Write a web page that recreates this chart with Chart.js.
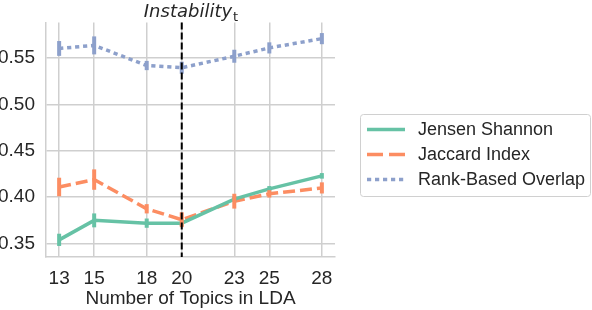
<!DOCTYPE html>
<html><head><meta charset="utf-8">
<script src="https://cdn.jsdelivr.net/npm/chart.js@4.4.1/dist/chart.umd.min.js"></script>
<style>html,body{margin:0;padding:0;background:#fff;}canvas{display:block;}</style>
</head><body>
<canvas id="c" width="592" height="310"></canvas>
<script>
const topics = [13, 15, 18, 20, 23, 25, 28];
const seriesNames = ["Jensen Shannon", "Jaccard Index", "Rank-Based Overlap"];
const jensen = [0.354, 0.375, 0.372, 0.372, 0.398, 0.409, 0.423];
const jensenErr = [0.0066, 0.0075, 0.005, 0.003, 0.003, 0.003, 0.003];
const jaccard = [0.411, 0.419, 0.3875, 0.3757, 0.3957, 0.4036, 0.410];
const jaccardErr = [0.010, 0.011, 0.005, 0.008, 0.008, 0.004, 0.006];
const rbo = [0.5604, 0.5637, 0.542, 0.5396, 0.552, 0.561, 0.571];
const rboErr = [0.008, 0.0097, 0.005, 0.0065, 0.007, 0.006, 0.006];
const yTicks = [0.35, 0.40, 0.45, 0.50, 0.55];
const markerX = 20;

const colors = ["#66c2a5", "#fc8d62", "#8da0cb"];
const dashes = [[], [12, 5], [4.2, 3.8]];
const values = [jensen, jaccard, rbo];
const errs = [jensenErr, jaccardErr, rboErr];

const datasets = values.map((v, i) => ({
  label: seriesNames[i],
  data: topics.map((t, j) => ({x: t, y: v[j]})),
  errs: errs[i],
  borderColor: colors[i],
  backgroundColor: colors[i],
  borderWidth: 3.5,
  borderDash: dashes[i],
  pointRadius: 0,
  showLine: true,
  tension: 0,
  fill: false
}));

const FONT = "'Liberation Sans', Arial, sans-serif";
const TXT = "#262626";

const extras = {
  id: 'extras',
  afterDatasetsDraw(chart) {
    const ctx = chart.ctx, xs = chart.scales.x, ys = chart.scales.y, ca = chart.chartArea;
    // error bars
    chart.data.datasets.forEach(ds => {
      ctx.save();
      ctx.strokeStyle = ds.borderColor;
      ctx.lineWidth = 4;
      ctx.lineCap = 'butt';
      ds.data.forEach((p, j) => {
        const px = xs.getPixelForValue(p.x);
        ctx.beginPath();
        ctx.moveTo(px, ys.getPixelForValue(p.y - ds.errs[j]));
        ctx.lineTo(px, ys.getPixelForValue(p.y + ds.errs[j]));
        ctx.stroke();
      });
      ctx.restore();
    });
    // vertical dashed line
    const vx = xs.getPixelForValue(markerX);
    ctx.save();
    ctx.strokeStyle = '#000';
    ctx.lineWidth = 2;
    ctx.setLineDash([7, 3]);
    ctx.beginPath();
    ctx.moveTo(vx, ca.top);
    ctx.lineTo(vx, ca.bottom);
    ctx.stroke();
    ctx.restore();
    // title Instability_t
    ctx.save();
    ctx.fillStyle = TXT;
    ctx.textBaseline = 'alphabetic';
    const mainFont = "oblique 18px 'DejaVu Sans', sans-serif";
    const subFont = "13px 'DejaVu Sans', sans-serif";
    ctx.font = mainFont;
    const w1 = ctx.measureText('Instability').width;
    ctx.font = subFont;
    const w2 = ctx.measureText('t').width;
    const cx = (ca.left + ca.right) / 2;
    const x0 = cx - (w1 + w2) / 2;
    ctx.font = mainFont;
    ctx.fillText('Instability', x0, 17);
    ctx.font = subFont;
    ctx.fillText('t', x0 + w1 + 1, 21);
    ctx.restore();
    // legend
    ctx.save();
    const bx = 360.5, by = 114.5, bw = 230, bh = 82;
    ctx.strokeStyle = '#d0d0d0';
    ctx.lineWidth = 1;
    ctx.fillStyle = 'rgba(255,255,255,0.8)';
    ctx.beginPath();
    ctx.roundRect(bx, by, bw, bh, 3);
    ctx.fill();
    ctx.stroke();
    const rows = [129.5, 154.5, 179.5];
    chart.data.datasets.forEach((ds, i) => {
      ctx.strokeStyle = ds.borderColor;
      ctx.lineWidth = 3.5;
      ctx.setLineDash(i === 1 ? [16, 6] : ds.borderDash);
      ctx.beginPath();
      ctx.moveTo(367, rows[i]);
      ctx.lineTo(405, rows[i]);
      ctx.stroke();
      ctx.setLineDash([]);
      ctx.fillStyle = TXT;
      ctx.font = "18px " + FONT;
      ctx.textBaseline = 'middle';
      ctx.fillText(ds.label, 418, rows[i] + 1);
    });
    ctx.restore();
  }
};

new Chart(document.getElementById('c'), {
  type: 'scatter',
  data: { datasets },
  options: {
    responsive: false,
    animation: false,
    devicePixelRatio: 1,
    layout: { padding: { left: 0, right: 257, top: 22, bottom: 0 } },
    plugins: { legend: { display: false }, tooltip: { enabled: false }, title: { display: false } },
    scales: {
      x: {
        type: 'linear',
        min: 12.25, max: 28.75,
        afterBuildTicks: s => { s.ticks = topics.map(v => ({value: v})); },
        afterFit: s => { s.height = 53; },
        ticks: { color: TXT, font: { family: FONT, size: 19 }, padding: 10, autoSkip: false, maxRotation: 0,
                 callback: v => String(v) },
        grid: { color: '#cfcfcf', lineWidth: 1.5, drawTicks: false },
        border: { display: true, color: '#cfcfcf', width: 1.5 },
        title: { display: true, text: 'Number of Topics in LDA', color: TXT, font: { family: FONT, size: 19 }, padding: { top: 0, bottom: 0 } }
      },
      y: {
        min: 0.3355, max: 0.5885,
        afterBuildTicks: s => { s.ticks = yTicks.map(v => ({value: v})); },
        afterFit: s => { s.width = 46; },
        ticks: { color: TXT, font: { family: FONT, size: 19 }, padding: 11, callback: v => Number(v).toFixed(2) },
        grid: { color: '#cfcfcf', lineWidth: 1.5, drawTicks: false },
        border: { display: true, color: '#cfcfcf', width: 1.5 }
      }
    }
  },
  plugins: [extras]
});
</script>
</body></html>
